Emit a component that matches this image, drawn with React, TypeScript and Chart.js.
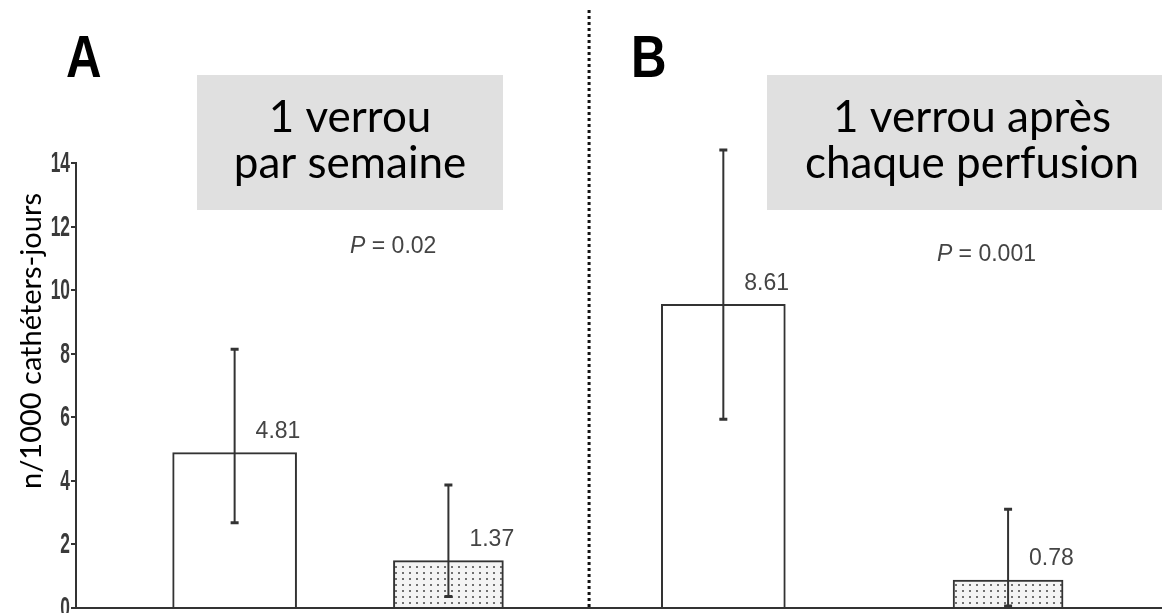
import React, { useEffect, useRef } from 'react';
import { Chart, registerables } from 'chart.js';

Chart.register(...registerables);

// ---- data ----
const panels = ['A', 'B'];
const panelTitles = [['1 verrou', 'par semaine'], ['1 verrou après', 'chaque perfusion']];
const pValues = ['0.02', '0.001'];
const yAxisTitle = 'n/1000 cathéters-jours';

const barPanel = ['A', 'A', 'B', 'B'];
const barGroup = ['contrôle', 'verrou', 'contrôle', 'verrou'];
const barPositions = [0.742, 1.742, 3.028, 4.36];
const barValues = [4.89, 1.49, 9.55, 0.88];
const errorLow = [2.68, 0.36, 5.94, 0.06];
const errorHigh = [8.14, 3.87, 14.41, 3.11];
const valueLabels = ['4.81', '1.37', '8.61', '0.78'];

const yMin = 0;
const yMax = 14;
const yStep = 2;
const xMax = 5.08;

function makeDotPattern(): CanvasPattern | string {
  const c = document.createElement('canvas');
  c.width = 7;
  c.height = 6;
  const g = c.getContext('2d');
  if (!g) return '#eee';
  g.fillStyle = '#f4f4f4';
  g.fillRect(0, 0, 7, 6);
  g.fillStyle = '#707070';
  g.fillRect(3, 2, 2, 2);
  const ctx = document.createElement('canvas').getContext('2d');
  return (ctx && ctx.createPattern(c, 'repeat')) || '#eee';
}

const overlayPlugin = {
  id: 'overlay',
  beforeDraw(chart: any) {
    const { ctx, width, height } = chart;
    ctx.save();
    ctx.fillStyle = '#ffffff';
    ctx.fillRect(0, 0, width, height);
    ctx.restore();
  },
  afterDatasetsDraw(chart: any) {
    const { ctx } = chart;
    const xs = chart.scales.x;
    const ys = chart.scales.y;
    ctx.save();
    // error bars
    ctx.strokeStyle = '#333';
    for (let i = 0; i < barValues.length; i++) {
      const x = xs.getPixelForValue(barPositions[i]);
      const yl = ys.getPixelForValue(errorLow[i]);
      const yh = ys.getPixelForValue(errorHigh[i]);
      ctx.lineWidth = 2;
      ctx.beginPath();
      ctx.moveTo(x, yl);
      ctx.lineTo(x, yh);
      ctx.stroke();
      ctx.lineWidth = 3;
      ctx.beginPath();
      ctx.moveTo(x - 4, yh);
      ctx.lineTo(x + 4, yh);
      ctx.moveTo(x - 4, yl);
      ctx.lineTo(x + 4, yl);
      ctx.stroke();
    }
    // value labels
    ctx.fillStyle = '#444';
    ctx.font = '23px "Liberation Sans", Arial, sans-serif';
    ctx.textAlign = 'left';
    ctx.textBaseline = 'middle';
    for (let i = 0; i < barValues.length; i++) {
      const x = xs.getPixelForValue(barPositions[i]) + 21;
      const y = ys.getPixelForValue(barValues[i]) - 21;
      ctx.fillText(valueLabels[i], x, y);
    }
    // p values
    const pPos = [
      { x: 1.282, y: 11.36 },
      { x: 4.027, y: 11.11 },
    ];
    for (let k = 0; k < pValues.length; k++) {
      let x = xs.getPixelForValue(pPos[k].x);
      const y = ys.getPixelForValue(pPos[k].y);
      ctx.font = 'italic 23px "Liberation Sans", Arial, sans-serif';
      ctx.fillText('P', x, y);
      x += ctx.measureText('P').width;
      ctx.font = '23px "Liberation Sans", Arial, sans-serif';
      ctx.fillText(' = ' + pValues[k], x, y);
    }
    // dotted divider
    const dx = xs.getPixelForValue(2.4);
    ctx.strokeStyle = '#111';
    ctx.lineWidth = 3;
    ctx.setLineDash([3, 3]);
    ctx.beginPath();
    ctx.moveTo(dx, 10);
    ctx.lineTo(dx, chart.chartArea.bottom - 1);
    ctx.stroke();
    ctx.setLineDash([]);
    ctx.restore();
  },
  afterDraw(chart: any) {
    const { ctx } = chart;
    const ys = chart.scales.y;
    ctx.save();
    // y tick labels (condensed), from the library's ticks
    ctx.fillStyle = '#3a3a3a';
    ctx.font = 'bold 29px "Liberation Sans", Arial, sans-serif';
    ctx.textAlign = 'right';
    ctx.textBaseline = 'middle';
    for (const t of ys.ticks) {
      const y = ys.getPixelForValue(t.value);
      ctx.save();
      ctx.translate(70, y + 1);
      ctx.scale(0.6, 1);
      ctx.fillText(String(t.value), 0, 0);
      ctx.restore();
    }
    // panel title boxes
    const boxes = [
      { x: 197, w: 306 },
      { x: 767, w: 408 },
    ];
    for (let k = 0; k < panelTitles.length; k++) {
      const b = boxes[k];
      ctx.fillStyle = '#e0e0e0';
      ctx.fillRect(b.x, 75, b.w, 135);
      ctx.fillStyle = '#000';
      ctx.font = '44px Lato, "Open Sans", sans-serif';
      ctx.textAlign = 'center';
      ctx.textBaseline = 'alphabetic';
      const cx = k === 0 ? b.x + b.w / 2 : 972;
      ctx.fillText(panelTitles[k][0], cx, 132);
      ctx.fillText(panelTitles[k][1], cx, 178);
    }
    // panel letters
    const letterX = [66, 631];
    ctx.fillStyle = '#000';
    ctx.font = 'bold 60px "Liberation Sans", Arial, sans-serif';
    ctx.textAlign = 'left';
    ctx.textBaseline = 'alphabetic';
    for (let k = 0; k < panels.length; k++) {
      ctx.save();
      ctx.translate(letterX[k], 77);
      ctx.scale(0.82, 1);
      ctx.fillText(panels[k], 0, 0);
      ctx.restore();
    }
    // y axis title
    ctx.save();
    ctx.translate(32, 341);
    ctx.rotate(-Math.PI / 2);
    ctx.fillStyle = '#000';
    ctx.font = '29px Lato, "Open Sans", sans-serif';
    ctx.textAlign = 'center';
    ctx.textBaseline = 'middle';
    ctx.fillText(yAxisTitle, 0, 0);
    ctx.restore();
    ctx.restore();
  },
};

export default function App() {
  const ref = useRef<HTMLCanvasElement | null>(null);

  useEffect(() => {
    const canvas = ref.current;
    if (!canvas) return;
    const dots = makeDotPattern();
    const openIdx = barGroup.map((g, i) => (g === 'contrôle' ? i : -1)).filter((i) => i >= 0);
    const dotIdx = barGroup.map((g, i) => (g === 'verrou' ? i : -1)).filter((i) => i >= 0);

    const chart = new Chart(canvas, {
      type: 'bar',
      data: {
        datasets: [
          {
            label: 'contrôle',
            data: openIdx.map((i) => ({ x: barPositions[i], y: barValues[i] })),
            backgroundColor: '#ffffff',
            borderColor: '#333',
            borderWidth: 2,
            barThickness: 124,
            grouped: false,
          } as any,
          {
            label: 'verrou',
            data: dotIdx.map((i) => ({ x: barPositions[i], y: barValues[i] })),
            backgroundColor: dots as any,
            borderColor: '#333',
            borderWidth: 2,
            barThickness: 110,
            grouped: false,
          } as any,
        ],
      },
      options: {
        responsive: false,
        animation: false,
        events: [],
        layout: { padding: { top: 163, left: 0, right: 0, bottom: 0 } },
        plugins: {
          legend: { display: false },
          tooltip: { enabled: false },
          title: { display: false },
        },
        scales: {
          x: {
            type: 'linear',
            offset: false,
            min: 0,
            max: xMax,
            ticks: { display: false },
            grid: { display: false, drawTicks: false, offset: false },
            border: { display: true, color: '#333', width: 2 },
            afterFit: (s: any) => {
              s.height = 5;
              s.paddingLeft = 0;
              s.paddingRight = 0;
            },
          },
          y: {
            min: yMin,
            max: yMax,
            ticks: {
              stepSize: yStep,
              display: false,
            },
            grid: {
              drawOnChartArea: false,
              drawTicks: true,
              tickLength: 5,
              color: '#333',
              lineWidth: 2,
            },
            border: { display: true, color: '#333', width: 2 },
            afterFit: (s: any) => {
              s.width = 76;
              s.paddingTop = 0;
              s.paddingBottom = 0;
            },
          },
        },
      } as any,
      plugins: [overlayPlugin],
    });
    return () => chart.destroy();
  }, []);

  return (
    <div style={{ position: 'fixed', left: 0, top: 0, width: 1162, height: 613, overflow: 'hidden', background: '#fff' }}>
      <canvas ref={ref} width={1162} height={613} style={{ display: 'block', width: 1162, height: 613 }} />
    </div>
  );
}
